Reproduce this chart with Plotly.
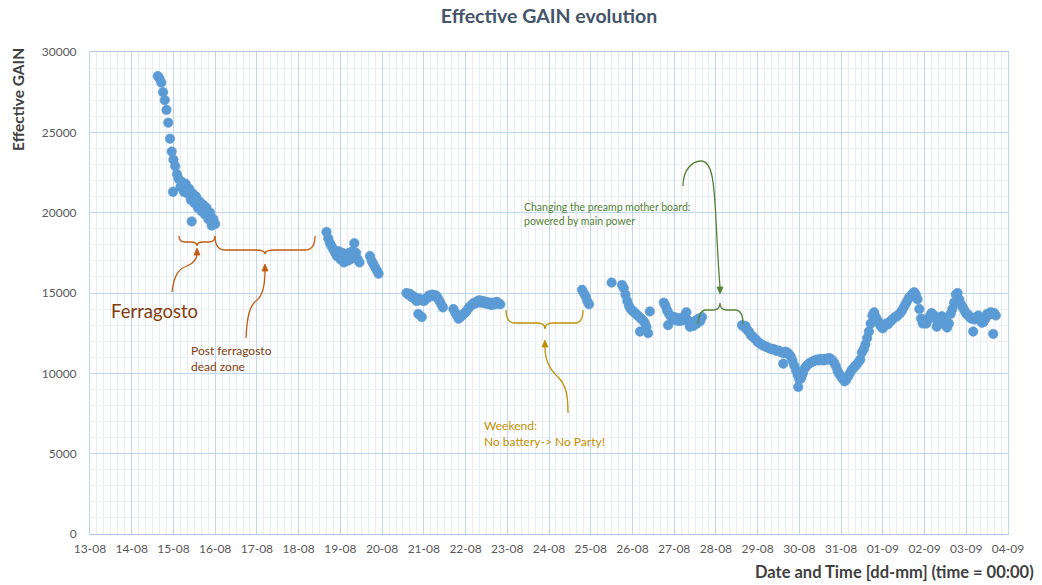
import pandas as pd
import plotly.graph_objects as go

# ---- Effective gain readings, hourly acquisition runs (start time, values) ----
run_a_start = "2019-08-14 15:00"
run_a_gain = [28500, 28350, 28100, 27500, 27000, 26400, 25600, 24600, 23800, 23300,
              22900, 22400, 22100, 21600, 21900, 21300, 21800, 21200, 21500, 20800,
              21200, 20600, 21000, 20300, 20700, 20100, 20500, 19900, 20300, 19600,
              20000, 19200, 19600, 19300]

run_b_start = "2019-08-18 16:00"
run_b_gain = [18800, 18400, 18100, 17900, 17700, 17500, 17300, 17600, 17100, 17500,
              16900, 17400, 17000, 17500, 17100, 17600, 18100, 17500, 17100, 16900]

run_c_start = "2019-08-19 17:00"
run_c_gain = [17300, 17000, 16800, 16600, 16400, 16200]

run_d_start = "2019-08-20 14:00"
run_d_gain = [15000, 14900, 14950, 14750, 14800, 14600, 14500, 14650, 14550, 14600,
              14500, 14600, 14700, 14850, 14800, 14900, 14800, 14850, 14700, 14500,
              14300, 14100]

run_e_start = "2019-08-21 17:00"
run_e_gain = [14000, 13800, 13600, 13400, 13500, 13600, 13700, 13800, 13950, 14100,
              14200, 14300, 14400, 14350, 14500, 14550, 14400, 14500, 14350, 14450,
              14300, 14400, 14250, 14400, 14300, 14450, 14350, 14300]

run_f_start = "2019-08-24 19:00"
run_f_gain = [15200, 15000, 14800, 14500, 14300]

run_g_start = "2019-08-25 18:00"
run_g_gain = [15500, 15300, 14900, 14500, 14200, 14000, 13900, 13800, 13700, 13600,
              13500, 13400, 13300, 13150, 12900, 12500]

run_h_start = "2019-08-26 18:00"
run_h_gain = [14400, 14200, 13900, 13700, 13550, 13400, 13500, 13300, 13450, 13250,
              13400, 13300, 13600, 13800, 13300, 12900, 13100, 12950, 13250, 13100,
              13400, 13250, 13500]

run_i_start = "2019-08-28 15:00"
run_i_gain = [13000, 12900, 12950, 12700, 12600, 12400, 12300, 12200, 12100, 11950,
              11900, 11800, 11750, 11700, 11650, 11600, 11550, 11500, 11520, 11450,
              11400, 11420, 11350, 11300, 11250, 11350, 11300, 11200, 11050, 10800,
              10500, 10200, 9900, 9600, 9700, 10000, 10300, 10450, 10550, 10650,
              10700, 10750, 10800, 10850, 10800, 10900, 10850, 10800, 10900, 10850,
              10950, 10900, 10800, 10650, 10450, 10150, 9950, 9800, 9650, 9500,
              9600, 9800, 10000, 10200, 10300, 10450, 10550, 10700, 10850, 11300,
              11500, 11800, 12200, 12600, 13100, 13600, 13800, 13500, 13300, 13100,
              12900, 12800, 13000, 13100, 13050, 13200, 13300, 13400, 13500, 13550,
              13650, 13750, 13900, 14100, 14300, 14500, 14700, 14800, 14950, 15050,
              14900, 14600, 14000, 13400, 13100, 13200, 13100, 13350, 13550, 13750,
              13650, 13500, 13300, 13350, 13500, 13550, 13300, 13000, 12850, 13100,
              13700, 14000, 14400, 14900, 15000, 14600, 14300, 14100, 13900, 13700,
              13650, 13500, 13400, 13450, 13350, 13500, 13600, 13400, 13150, 13200,
              13400, 13700, 13650, 13800, 13700, 13750, 13600]

# ---- Isolated readings outside the hourly runs ----
spot_times = ["2019-08-14 23:45", "2019-08-15 10:30", "2019-08-20 20:50",
              "2019-08-20 22:50", "2019-08-25 12:00", "2019-08-26 04:20",
              "2019-08-26 10:00", "2019-08-26 20:30", "2019-08-29 14:45",
              "2019-08-29 23:20", "2019-09-02 07:00", "2019-09-03 04:00",
              "2019-09-03 15:30"]
spot_gain = [21300, 19450, 13700, 13500, 15650, 12600, 13850, 13000, 10600,
             9150, 12900, 12600, 12450]

runs = [(run_a_start, run_a_gain), (run_b_start, run_b_gain), (run_c_start, run_c_gain),
        (run_d_start, run_d_gain), (run_e_start, run_e_gain), (run_f_start, run_f_gain),
        (run_g_start, run_g_gain), (run_h_start, run_h_gain), (run_i_start, run_i_gain)]

times, gains = [], []
for start, vals in runs:
    times.extend(pd.date_range(start, periods=len(vals), freq="h"))
    gains.extend(vals)
times.extend(pd.to_datetime(spot_times))
gains.extend(spot_gain)

# ---- Canvas geometry ----
W, H = 1042, 585
L, R, T, B = 90, 34, 52, 51
PW, PH = W - L - R, H - T - B

def paper(x, y):
    return (x - L) / PW, (H - B - y) / PH

def paper_path(spec):
    out = []
    for tok in spec.split():
        if "," in tok:
            x, y = (float(v) for v in tok.split(","))
            px, py = paper(x, y)
            out.append(f"{px:.5f},{py:.5f}")
        else:
            out.append(tok)
    return " ".join(out)

FONT = "Lato"
BROWN = "#c55a11"
BROWN_TXT = "#843c0c"
GOLD = "#bf9000"
GREEN = "#548235"

fig = go.Figure()
fig.add_trace(go.Scatter(
    x=times, y=gains, mode="markers",
    marker=dict(size=9.5, color="#5b9bd5", line=dict(width=0.6, color="#5b9bd5")),
    hoverinfo="x+y", showlegend=False,
))

shapes = []

def curve(spec, color, width=1.3):
    shapes.append(dict(type="path", xref="paper", yref="paper",
                       path=paper_path(spec), line=dict(color=color, width=width),
                       fillcolor="rgba(0,0,0,0)", layer="above"))

def head(spec, color):
    shapes.append(dict(type="path", xref="paper", yref="paper",
                       path=paper_path(spec), line=dict(color=color, width=0.8),
                       fillcolor=color, layer="above"))

# Ferragosto brace and arrow
curve("M 179,236 C 179,240 181,242 185,242 L 191,242 C 195,242 197,243 197,246 "
      "C 197,243 199,242 203,242 L 209,242 C 213,242 215,240 215,236", BROWN)
curve("M 172,292 C 174,276 178,269 187,266 C 194,263 197,259 197,254", BROWN)
head("M 197,248 L 194,255 L 200,255 Z", BROWN)

# Post ferragosto dead zone brace and arrow
curve("M 215,236 C 215,245 218,250 225,250 L 255,250 C 261,250 265,251 265,254 "
      "C 265,251 269,250 275,250 L 305,250 C 312,250 315,245 315,236", BROWN)
curve("M 246,338 C 247,318 249,306 257,300 C 263,295 265,285 265,271", BROWN)
head("M 265,264 L 262,271 L 268,271 Z", BROWN)

# Weekend brace and arrow
curve("M 506,310 C 506,318 509,323 515,323 L 537,323 C 542,323 545,325 545,329 "
      "C 545,325 548,323 553,323 L 575,323 C 581,323 583,318 583,310", GOLD)
curve("M 568,413 C 568,395 566,385 558,377 C 549,369 545,360 545,347", GOLD)
head("M 545,340 L 542,347 L 548,347 Z", GOLD)

# Mother board change brace and arrow
curve("M 698,324 C 698,316 701,310 706,310 L 713,310 C 718,310 720,308 720,303 "
      "C 720,308 722,310 727,310 L 735,310 C 741,310 743,316 743,324", GREEN)
curve("M 683,186 C 683,170 692,161 701,161 C 712,161 714,180 716,220 "
      "C 718,260 719,275 720,287", GREEN)
head("M 720,294 L 717,287 L 723,287 Z", GREEN)

annotations = []

def label(x, y, text, color, size, xanchor="left", bold=False, angle=0, align="left"):
    px, py = paper(x, y)
    if bold:
        text = f"<b>{text}</b>"
    annotations.append(dict(x=px, y=py, xref="paper", yref="paper", text=text,
                            showarrow=False, xanchor=xanchor, yanchor="middle",
                            align=align, textangle=angle,
                            font=dict(family=FONT, size=size, color=color)))

label(109, 311, "Ferragosto", BROWN_TXT, 18.5)
label(189, 358, "Post ferragosto<br>dead zone", BROWN_TXT, 12)
label(482, 433, "Weekend:<br>No battery-> No Party!", GOLD, 12)
label(522, 214, "Changing the preamp mother board:<br>powered by main power", GREEN, 10.5)
label(18, 100, "Effective GAIN", "#404040", 15.5, xanchor="center", bold=True, angle=-90)
label(1036, 572, "Date and Time [dd-mm] (time = 00:00)", "#404040", 16.5,
      xanchor="right", bold=True)

fig.update_layout(
    width=W, height=H,
    margin=dict(l=L, r=R, t=T, b=B, pad=0),
    paper_bgcolor="white", plot_bgcolor="white",
    font=dict(family=FONT, color="#595959"),
    title=dict(text="<b>Effective GAIN evolution</b>", x=0.5, xref="paper",
               y=1 - 16 / H, yanchor="middle",
               font=dict(family=FONT, size=19.5, color="#44546a")),
    shapes=shapes,
    annotations=annotations,
    showlegend=False,
)

fig.update_xaxes(
    type="date", range=["2019-08-13", "2019-09-04"],
    tick0="2019-08-13", dtick=86400000, tickformat="%d-%m",
    showgrid=True, gridcolor="#bdd7ee", gridwidth=1,
    minor=dict(dtick=4 * 3600000, showgrid=True, gridcolor="#e2edf8", gridwidth=1),
    showline=True, linecolor="#b4c7e7", linewidth=1, mirror=True,
    ticks="", ticklabelstandoff=4,
    tickfont=dict(family=FONT, size=12, color="#595959"),
    zeroline=False,
)
fig.update_yaxes(
    range=[0, 30000], tick0=0, dtick=5000, tickformat="d",
    showgrid=True, gridcolor="#bdd7ee", gridwidth=1,
    minor=dict(dtick=1000, showgrid=True, gridcolor="#eef2f7", gridwidth=1),
    showline=True, linecolor="#bdd7ee", linewidth=1, mirror=True,
    ticks="", ticklabelstandoff=10,
    tickfont=dict(family=FONT, size=12, color="#595959"),
    zeroline=False,
)

fig.write_html("out.html")
